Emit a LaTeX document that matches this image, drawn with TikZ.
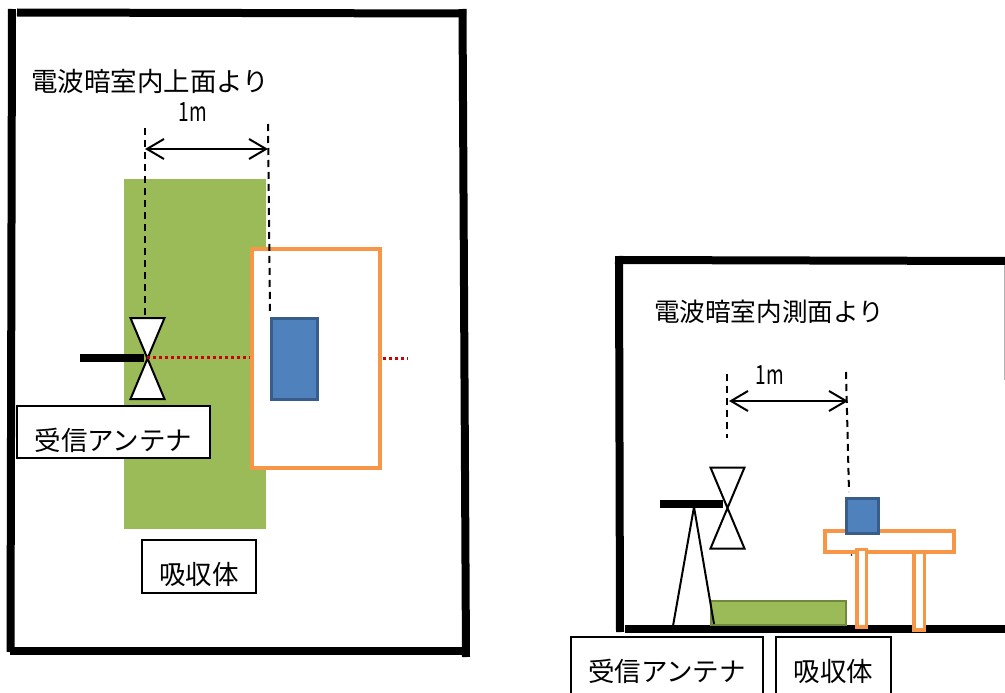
\documentclass[tikz,border=0pt]{standalone}
\usepackage{fontspec}
\setmainfont{Noto Sans CJK JP}
\usetikzlibrary{arrows.meta}
\definecolor{absorbgreen}{HTML}{9BBB59}
\definecolor{absorbline}{HTML}{71893F}
\definecolor{tableorange}{HTML}{F79646}
\definecolor{eutblue}{HTML}{4F81BD}
\definecolor{eutline}{HTML}{385D8A}
\definecolor{beamred}{HTML}{D00000}
\tikzstyle{wall}=[line width=8pt]
\tikzstyle{mast}=[line width=8pt]
\tikzstyle{bowtie}=[line width=2pt,fill=white]
\tikzstyle{guide}=[line width=2pt,dash pattern=on 7pt off 5pt]
\tikzstyle{span}=[line width=2pt,{Straight Barb[length=17pt,width=20pt]}-{Straight Barb[length=17pt,width=20pt]}]
\tikzstyle{beam}=[line width=3pt,beamred,dash pattern=on 3pt off 3pt]
\tikzstyle{table}=[line width=3.1pt,tableorange,fill=white]
\tikzstyle{eut}=[line width=3pt,draw=eutline,fill=eutblue]
\tikzstyle{txt}=[inner sep=0pt,font=\fontsize{26.5}{30}\selectfont]
\tikzstyle{lbl}=[txt,draw,fill=white,line width=2pt,anchor=north west,align=center]
\newcommand\narrowm{\scalebox{.72}[1]{1m}}
\begin{document}
\begin{tikzpicture}[x=1pt,y=-1pt]
	\useasboundingbox (0,0) rectangle (1005,693);
	% top view
	\draw[wall] (12,9) -- (10.5,652);
	\draw[wall] (17,12.5) -- (466,13.5);
	\draw[wall] (462.5,9) -- (466,657);
	\draw[wall] (10,651) -- (464,651);
	\fill[absorbgreen] (124,179) rectangle (266,529);
	\draw[table] (252,249) rectangle (380,468);
	\draw[eut] (271,318) rectangle (317,399);
	\coordinate (ta) at (145,128);
	\coordinate (tb) at (145,318);
	\coordinate (tc) at (268,124);
	\coordinate (td) at (270,314);
	\coordinate (te) at (145,149);
	\coordinate (tf) at (268,149);
	\draw[guide] (ta) -- (tb);
	\draw[guide] (tc) -- (td);
	\draw[span] (te) -- (tf);
	\draw[mast] (80,358) -- (144,358);
	\draw[bowtie] (130.5,318) -- (164.5,318) -- (130.5,399) -- (164.5,399) -- cycle;
	\coordinate (tg) at (147,357);
	\coordinate (th) at (250,357);
	\coordinate (ti) at (383,358);
	\coordinate (tj) at (408,358);
	\draw[beam] (tg) -- (th);
	\draw[beam] (ti) -- (tj);
	\node[txt] (toptitle) at (150,81) {電波暗室内上面より};
	\node[txt] (topdist) at (193,112) {\narrowm};
	\node[lbl,minimum width=193pt,text height=44pt,text depth=8pt] (toprx) at (16,405) {受信アンテナ};
	\node[lbl,minimum width=114pt,text height=44pt,text depth=9pt] (topabs) at (141,539) {吸収体};
	% side view
	\draw[wall] (619,256) -- (620,632);
	\draw[wall] (615,260) -- (1005,261);
	\draw[wall] (625,629) -- (1005,629);
	\draw[gray!60,line width=1pt] (1004,265) -- (1004,380);
	\coordinate (sa) at (727,374);
	\coordinate (sb) at (727,438);
	\coordinate (sc) at (846,372);
	\coordinate (sd) at (849,492);
	\coordinate (se) at (729,401);
	\coordinate (sf) at (848,401);
	\draw[guide] (sa) -- (sb);
	\draw[guide] (sc) -- (sd);
	\draw[span] (se) -- (sf);
	\draw[line width=2pt,absorbline,fill=absorbgreen] (711,601) rectangle (846,624.5);
	\draw[line width=2pt] (673,626) -- (694,507) -- (714,624);
	\draw[mast] (660,504) -- (723,504);
	\draw[bowtie,fill=none] (710.5,467.5) -- (744.5,467.5) -- (710.5,548.5) -- (744.5,548.5) -- cycle;
	\draw[table] (825,531) rectangle (954,552);
	\draw[eut] (846,498) rectangle (878.5,533);
	\draw[table] (857,549.5) rectangle (866.5,627);
	\draw[table] (914,552) rectangle (924.5,630);
	\fill (851.5,555) circle (.8pt);
	\node[txt,font=\fontsize{25.6}{30}\selectfont] (sidetitle) at (769,312) {電波暗室内測面より};
	\node[txt] (sidedist) at (770,375) {\narrowm};
	\node[lbl,minimum width=192pt,text height=44pt,text depth=18pt] (siderx) at (570,636) {受信アンテナ};
	\node[lbl,minimum width=115pt,text height=44pt,text depth=18pt] (sideabs) at (775,636) {吸収体};
\end{tikzpicture}
\end{document}
